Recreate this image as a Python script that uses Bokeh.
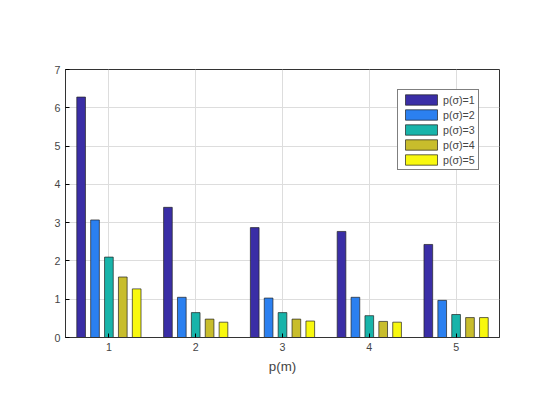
from bokeh.plotting import figure
from bokeh.models import Label, Legend, LegendItem, FixedTicker
from bokeh.embed import file_html
from bokeh.resources import INLINE

groups = [1, 2, 3, 4, 5]
series = ["p(\u03c3)=1", "p(\u03c3)=2", "p(\u03c3)=3", "p(\u03c3)=4", "p(\u03c3)=5"]
values = [
    [6.28, 3.40, 2.87, 2.77, 2.43],
    [3.07, 1.05, 1.03, 1.05, 0.97],
    [2.10, 0.65, 0.65, 0.57, 0.60],
    [1.58, 0.48, 0.48, 0.42, 0.52],
    [1.27, 0.40, 0.43, 0.40, 0.52],
]
colors = ["#3a2ea6", "#2b80f0", "#18b4aa", "#c8bd2c", "#f8f80e"]
offsets = [-0.32, -0.16, 0.0, 0.16, 0.32]

p = figure(width=544, height=404, x_range=(0.5, 5.5), y_range=(0, 7),
           toolbar_location=None, tools="", output_backend="svg",
           min_border_left=65, min_border_top=69, min_border_right=45, min_border_bottom=67)

items = []
for i in range(len(series)):
    xs = [g + offsets[i] for g in groups]
    r = p.vbar(x=xs, top=values[i], width=0.1, fill_color=colors[i], line_color="#222222", line_width=0.7)
    items.append(LegendItem(label=series[i], renderers=[r]))

leg = Legend(items=items, location=(332, 167), label_text_font_size="8pt",
             label_text_font="Liberation Sans", glyph_width=40, glyph_height=13,
             label_height=13, spacing=2, padding=3, margin=0,
             border_line_color="black", label_standoff=2)
p.add_layout(leg, "center")

for ax in (p.xaxis, p.yaxis):
    ax.major_label_text_font_size = "8pt"
    ax.major_label_text_font = "Liberation Sans"
    ax.minor_tick_line_color = None
    ax.major_tick_in = 4
    ax.major_tick_out = 0
    ax.axis_line_color = "#333333"
p.xaxis.ticker = FixedTicker(ticks=groups)
p.yaxis.ticker = FixedTicker(ticks=list(range(8)))
p.xaxis.axis_label = "p(m)"
p.xaxis.axis_label_text_font_style = "normal"
p.xaxis.axis_label_text_font_size = "10pt"
p.xaxis.axis_label_text_font = "Liberation Sans"
p.grid.grid_line_color = "#dddddd"
p.outline_line_color = "#333333"

p.add_layout(Label(x=0.5, y=3.5, x_offset=-38, y_offset=-8, text="Loss", angle=1.5708,
                   text_font_size="10pt", text_font="Liberation Sans", text_align="center"))
p.add_layout(Label(x=0.5, y=3.5, x_offset=-35, y_offset=12, text="pq", angle=1.5708,
                   text_font_size="7pt", text_font="Liberation Sans"))
p.add_layout(Label(x=0.5, y=7, x_offset=-40, y_offset=16, text="\u00d710",
                   text_font_size="8pt", text_font="Liberation Sans"))
p.add_layout(Label(x=0.5, y=7, x_offset=-22, y_offset=21, text="-3",
                   text_font_size="6pt", text_font="Liberation Sans"))

open("out.html", "w").write(file_html(p, INLINE))
